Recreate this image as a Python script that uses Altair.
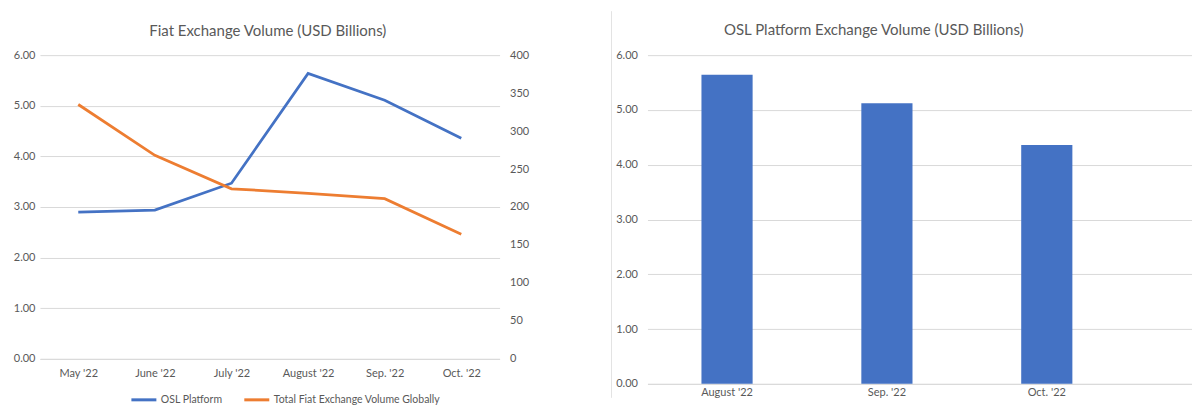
import altair as alt
import pandas as pd

# ---- data ----
months = ["May '22", "June '22", "July '22", "August '22", "Sep. '22", "Oct. '22"]
osl_volume = [2.90, 2.94, 3.47, 5.64, 5.11, 4.36]
global_volume = [335, 268, 224, 218, 211, 164]
bar_months = ["August '22", "Sep. '22", "Oct. '22"]
bar_volume = [5.64, 5.12, 4.36]
series_names = ["OSL Platform", "Total Fiat Exchange Volume Globally"]
series_colors = ["#4472C4", "#ED7D31"]
left_ticks = [0, 1, 2, 3, 4, 5, 6]
right_ticks = [0, 50, 100, 150, 200, 250, 300, 350, 400]

FONT = "Lato"
GREY = "#595959"
GRID = "#D9D9D9"

osl_df = pd.DataFrame({"month": months, "value": osl_volume, "series": series_names[0]})
global_df = pd.DataFrame({"month": months, "value": global_volume, "series": series_names[1]})
bar_df = pd.DataFrame({"month": bar_months, "volume": bar_volume})
sep_df = pd.DataFrame({"sep": [0]})

color = alt.Color(
    "series:N",
    scale=alt.Scale(domain=series_names, range=series_colors),
    legend=alt.Legend(
        title=None, orient="none", legendX=90, legendY=331, direction="horizontal",
        symbolType="stroke", symbolSize=625, symbolStrokeWidth=3,
        labelFont=FONT, labelFontSize=10.5, labelColor=GREY, labelLimit=0,
        columnPadding=15, labelOffset=3,
    ),
)

x_left = alt.X(
    "month:N", sort=months, scale=alt.Scale(type="point", padding=0.5),
    axis=alt.Axis(title=None, labelAngle=0, ticks=False, domain=True, domainColor=GRID,
                  labelPadding=9),
)

osl_line = alt.Chart(osl_df).mark_line(strokeWidth=2.75).encode(
    x=x_left,
    y=alt.Y("value:Q", scale=alt.Scale(domain=[0, 6]),
            axis=alt.Axis(values=left_ticks, format=".2f", title=None, orient="left",
                          grid=True, gridColor=GRID, domain=False, ticks=False,
                          labelPadding=5, minExtent=32, maxExtent=32)),
    color=color,
)

global_line = alt.Chart(global_df).mark_line(strokeWidth=2.75).encode(
    x=x_left,
    y=alt.Y("value:Q", scale=alt.Scale(domain=[0, 400]),
            axis=alt.Axis(values=right_ticks, format="d", title=None, orient="right",
                          grid=False, domain=False, ticks=False,
                          labelPadding=10, minExtent=36, maxExtent=36)),
    color=color,
)

left = alt.layer(osl_line, global_line).resolve_scale(y="independent").properties(
    width=460, height=304,
    title=alt.TitleParams("Fiat Exchange Volume (USD Billions)", offset=10, dx=-2),
)

bars = alt.Chart(bar_df).mark_bar(color="#4472C4").encode(
    x=alt.X("month:N", sort=bar_months,
            scale=alt.Scale(paddingInner=0.68, paddingOuter=0.543, align=0.311),
            axis=alt.Axis(title=None, labelAngle=0, ticks=False, domain=True,
                          domainColor=GRID, labelPadding=3)),
    y=alt.Y("volume:Q", scale=alt.Scale(domain=[0, 6]),
            axis=alt.Axis(values=left_ticks, format=".2f", title=None, grid=True,
                          gridColor=GRID, domain=False, ticks=False, labelPadding=10,
                          minExtent=36, maxExtent=36)),
)

sep = alt.Chart(sep_df).mark_rule(color="#E3E3E3", strokeWidth=1).encode(
    x=alt.value(-36), y=alt.value(-44), y2=alt.value(343)
)

right = alt.layer(bars, sep).properties(
    width=545, height=329,
    title=alt.TitleParams("OSL Platform Exchange Volume (USD Billions)", offset=0, dy=27, dx=-46),
)

chart = (
    alt.hconcat(left, right, spacing=75)
    .resolve_scale(color="independent")
    .properties(padding={"left": 0, "top": 2, "right": 0, "bottom": 0})
    .configure_view(stroke=None)
    .configure_axis(labelFont=FONT, labelColor=GREY, labelFontSize=11)
    .configure_title(font=FONT, fontSize=15, color=GREY, fontWeight="normal", anchor="middle")
)

chart.save("out.html", embed_options={"renderer": "svg", "actions": False})
